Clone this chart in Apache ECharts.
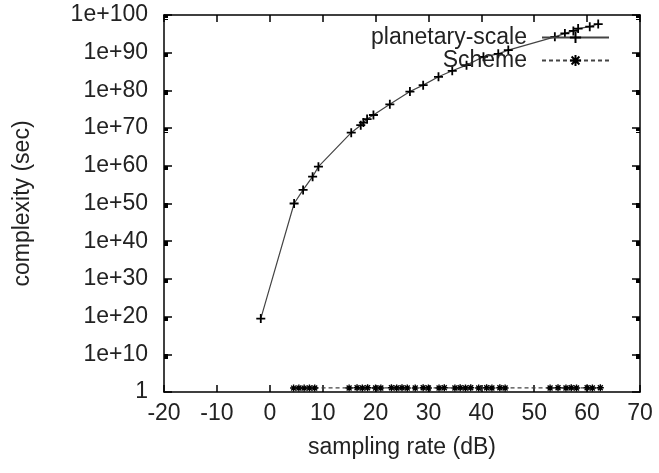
<!DOCTYPE html>
<html>
<head>
<meta charset="utf-8">
<script src="https://cdn.jsdelivr.net/npm/echarts@6/dist/echarts.min.js"></script>
<style>
html,body{margin:0;padding:0;background:#fff;}
#c{width:659px;height:473px;}
</style>
</head>
<body>
<div id="c"></div>
<script>
// ---- data ----
const planetaryX = [-1.7, 4.6, 6.3, 8.1, 9.2, 15.4, 17.2, 17.7, 18.4, 19.6, 22.7, 26.5, 29.0, 31.9, 34.5, 37.2, 40.4, 43.2, 45.1, 53.9, 55.8, 57.4, 58.3, 60.5, 62.1];
const planetaryY = [3e19, 1e50, 4e53, 1.3e57, 6e59, 6e68, 6e70, 3e71, 2.5e72, 3e73, 2e76, 5e79, 2.5e81, 4e83, 1.6e85, 5e86, 8e88, 5e89, 5e90, 1.6e94, 1.3e95, 6e95, 2.5e96, 8e96, 4e97];
const schemeX = [4.5, 5.5, 6.5, 7.5, 8.5, 15, 16.5, 17.5, 18.5, 20, 21, 23, 24, 25, 26, 27.5, 29, 30, 32, 33, 35, 36, 37, 38, 39.5, 41, 42, 43.5, 44.5, 53, 54.5, 56, 57, 58, 60, 61, 62.5];
const schemeY = [11, 12, 11, 12, 12, 12, 13, 12, 13, 12, 12, 13, 12, 13, 12, 12, 13, 12, 12, 13, 12, 13, 12, 13, 12, 13, 12, 13, 12, 12, 13, 12, 13, 12, 13, 12, 13];
const xTicks = [-20, -10, 0, 10, 20, 30, 40, 50, 60, 70];
const seriesNames = ['planetary-scale', 'Scheme'];
const xName = 'sampling rate (dB)';
const yName = 'complexity (sec)';

const FONT = 'Liberation Sans, Arial, sans-serif';
const TXT = '#222';
const plus = 'path://M5,0L5,10M0,5L10,5';
const star = 'path://M5,0L5,10M0,5L10,5M1.5,1.5L8.5,8.5M8.5,1.5L1.5,8.5';

const chart = echarts.init(document.getElementById('c'), null, {renderer: 'canvas'});
const yFmt = v => (Math.abs(v - 1) < 1e-9 ? '1' : '1e+' + Math.round(Math.log10(v)));
const tickStyle = {color: '#000', width: 1.5};
const minorStyle = {color: '#000', width: 1};
const axLine = {show: true, onZero: false, lineStyle: {color: '#000', width: 1.5}};

chart.setOption({
  animation: false,
  backgroundColor: '#fff',
  grid: {left: 164, right: 19, top: 15, bottom: 81, show: false},
  legend: {
    orient: 'vertical', right: 44, top: 21, align: 'right', itemGap: 0,
    itemWidth: 67, itemHeight: 14,
    textStyle: {fontFamily: FONT, fontSize: 23, color: TXT, padding: [0, 10, 0, 0]},
    data: [seriesNames[0], seriesNames[1]]
  },
  xAxis: [{
    type: 'value', min: -20, max: 70, interval: 10,
    name: xName, nameLocation: 'middle', nameGap: 44,
    nameTextStyle: {fontFamily: FONT, fontSize: 23, color: TXT},
    axisLine: axLine,
    axisTick: {show: true, inside: true, length: 7, lineStyle: tickStyle},
    axisLabel: {show: true, fontFamily: FONT, fontSize: 23, color: TXT, margin: 10, formatter: v => (xTicks.includes(v) ? String(v) : '')},
    splitLine: {show: false}
  }, {
    type: 'value', min: -20, max: 70, interval: 10, position: 'top',
    axisLine: axLine,
    axisTick: {show: true, inside: true, length: 7, lineStyle: tickStyle},
    axisLabel: {show: false}, splitLine: {show: false}
  }],
  yAxis: [{
    type: 'log', logBase: 10, min: 1, max: 1e100, interval: 10,
    name: yName, nameLocation: 'middle', nameGap: 130, nameRotate: 90,
    nameTextStyle: {fontFamily: FONT, fontSize: 23, color: TXT},
    axisLine: axLine,
    axisTick: {show: true, inside: true, length: 8, lineStyle: tickStyle},
    minorTick: {show: true, splitNumber: 10, length: 4, lineStyle: minorStyle},
    axisLabel: {fontFamily: FONT, fontSize: 23, color: TXT, margin: 16, formatter: yFmt},
    splitLine: {show: false}
  }, {
    type: 'log', logBase: 10, min: 1, max: 1e100, interval: 10, position: 'right',
    axisLine: axLine,
    axisTick: {show: true, inside: true, length: 8, lineStyle: tickStyle},
    minorTick: {show: true, splitNumber: 10, length: 4, lineStyle: minorStyle},
    axisLabel: {show: false}, splitLine: {show: false}
  }],
  series: [{
    name: seriesNames[0], type: 'line',
    data: planetaryX.map((x, i) => [x, planetaryY[i]]),
    symbol: plus, symbolSize: 9, showAllSymbol: true,
    lineStyle: {color: '#444', width: 1.2},
    itemStyle: {color: 'transparent', borderColor: '#000', borderWidth: 1.8},
    z: 3
  }, {
    name: seriesNames[1], type: 'line',
    data: schemeX.map((x, i) => [x, schemeY[i]]),
    symbol: star, symbolSize: 7, showAllSymbol: true,
    lineStyle: {color: '#444', width: 1.2, type: [4, 3]},
    itemStyle: {color: 'transparent', borderColor: '#000', borderWidth: 1.4},
    z: 3
  }]
});
</script>
</body>
</html>
